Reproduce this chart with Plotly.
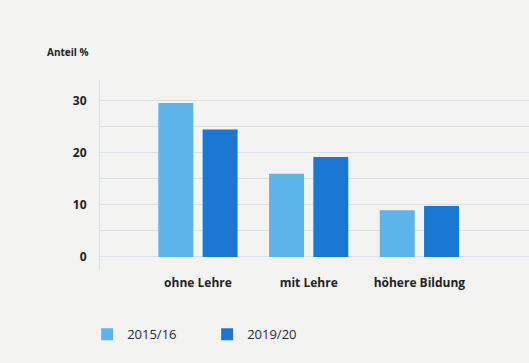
import plotly.graph_objects as go

categories = ["ohne Lehre", "mit Lehre", "höhere Bildung"]
series_names = ["2015/16", "2019/20"]
values_2015 = [29.6, 16.0, 9.0]
values_2019 = [24.5, 19.2, 9.8]
y_ticks = [0, 10, 20, 30]

colors = ["#5db4ea", "#1a78d3"]
bg = "#f3f3f2"
grid = "#d6e0ee"

x = list(range(len(categories)))

fig = go.Figure()
for name, vals, col in zip(series_names, [values_2015, values_2019], colors):
    fig.add_trace(go.Bar(x=x, y=vals, name=name, marker=dict(color=col, line=dict(width=0))))

fig.update_layout(
    width=529, height=363,
    margin=dict(l=100, r=0, t=80, b=93),
    paper_bgcolor=bg, plot_bgcolor=bg,
    barmode="group", bargap=0.2, bargroupgap=0.21,
    font=dict(family="Open Sans", color="#222222"),
    showlegend=True,
    legend=dict(orientation="h", x=-0.03, xanchor="left", y=-0.26, yanchor="top",
                font=dict(size=13, color="#2a2a35"), entrywidth=75,
                bgcolor="rgba(0,0,0,0)"),
    xaxis=dict(tickmode="array", tickvals=x, ticktext=categories,
               range=[-0.885, 2.99], showgrid=False, zeroline=False, showline=False,
               tickfont=dict(size=12, family="Open Sans", weight="bold", color="#222222"),
               ticks="", ticklabelstandoff=4),
    yaxis=dict(tickmode="array", tickvals=y_ticks, range=[-2.5, 34],
               showgrid=True, gridcolor=grid, gridwidth=1,
               minor=dict(dtick=5, tick0=0, showgrid=True, gridcolor=grid, gridwidth=1),
               zeroline=False, showline=True, linecolor=grid, linewidth=1,
               tickfont=dict(size=12, family="Open Sans", weight="bold", color="#222222"),
               ticks="", ticklabelstandoff=10),
    annotations=[dict(text="<b>Anteil %</b>", xref="paper", yref="paper",
                      x=-100/429 + 45/429, y=1 + (80 - 52) / 190, xanchor="left", yanchor="middle",
                      showarrow=False, font=dict(size=10, family="Open Sans", color="#222222"))],
)

fig.write_html("out.html")
